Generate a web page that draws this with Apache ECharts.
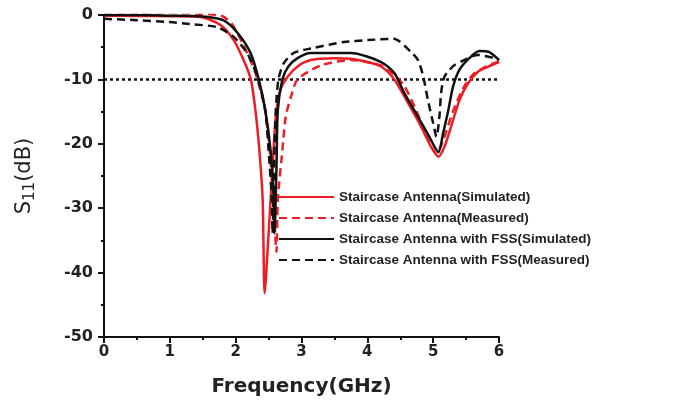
<!DOCTYPE html>
<html>
<head>
<meta charset="utf-8">
<script src="https://cdn.jsdelivr.net/npm/echarts@6/dist/echarts.min.js"></script>
<style>
html,body{margin:0;padding:0;background:#fff;}
#chart{width:684px;height:406px;}
</style>
</head>
<body>
<div id="chart"></div>
<script>
// ---- Data ----
var seriesNames = [
  'Staircase Antenna(Simulated)',
  'Staircase Antenna(Measured)',
  'Staircase Antenna with FSS(Simulated)',
  'Staircase Antenna with FSS(Measured)'
];
var xTicks = [0, 1, 2, 3, 4, 5, 6];
var yTicks = [-50, -40, -30, -20, -10, 0];
var thresholdDb = -10;

var simFreq = [0, 0.5, 1.0, 1.46, 1.77, 1.97, 2.12, 2.23, 2.30, 2.36, 2.41, 2.44, 2.50, 2.56, 2.61, 2.68, 2.79, 2.94, 3.14, 3.49, 3.75, 4.0, 4.21, 4.41, 4.62, 4.82, 4.97, 5.08, 5.17, 5.27, 5.40, 5.53, 5.68, 5.84, 6.0];
var simS11 = [-0.1, -0.15, -0.2, -0.3, -1.55, -3.9, -7, -10, -14.8, -21, -28.7, -43.2, -34, -23.6, -15.8, -11.6, -9.6, -8, -7, -6.7, -6.8, -7.3, -8, -10, -13.7, -17.4, -20.5, -22, -20.5, -17.4, -13.2, -10.6, -8.8, -8, -7.3];

var measFreq = [0, 0.5, 1.0, 1.5, 1.8, 1.95, 2.1, 2.3, 2.45, 2.55, 2.6, 2.62, 2.64, 2.71, 2.76, 2.84, 2.94, 3.3, 3.75, 4.2, 4.4, 4.56, 4.75, 4.95, 5.05, 5.15, 5.3, 5.45, 5.6, 5.8, 6.0];
var measS11 = [0.3, 0.3, 0.3, 0.2, -0.2, -1.5, -4.3, -9, -15, -25, -34, -36.8, -28.7, -21, -15.8, -12.7, -10, -7.8, -7, -7.8, -9.2, -11, -15, -20, -21.5, -19.5, -15, -11.5, -9.3, -8, -7.2];

var fssSimFreq = [0, 0.5, 1.0, 1.46, 1.81, 2.03, 2.23, 2.35, 2.45, 2.53, 2.58, 2.59, 2.62, 2.64, 2.71, 2.80, 2.94, 3.14, 3.75, 4.21, 4.41, 4.56, 4.77, 4.94, 5.08, 5.15, 5.23, 5.30, 5.40, 5.55, 5.70, 5.84, 6.0];
var fssSimS11 = [0, 0, -0.1, -0.2, -0.8, -2.8, -6, -10, -14.8, -21, -28.7, -33.9, -23.6, -14.8, -10, -8, -6.7, -5.9, -5.9, -7.3, -9, -12.1, -15.8, -18.9, -21.3, -18.4, -14.8, -11.2, -8.5, -6.7, -5.6, -5.7, -7];

var fssMeasFreq = [0, 0.5, 1.0, 1.3, 1.72, 1.97, 2.18, 2.33, 2.45, 2.50, 2.55, 2.56, 2.59, 2.61, 2.65, 2.73, 2.88, 3.14, 3.64, 4.0, 4.4, 4.66, 4.77, 4.85, 4.92, 5.0, 5.05, 5.10, 5.12, 5.17, 5.25, 5.32, 5.47, 5.68, 5.93, 6.0];
var fssMeasS11 = [-0.6, -0.8, -1.1, -1.4, -1.9, -3.4, -6, -9.6, -14.8, -21, -28.7, -33.9, -21, -14.8, -10, -7.5, -5.9, -5.2, -4.2, -3.9, -3.7, -5.7, -7, -9.6, -13.2, -16.8, -18.9, -15.2, -12.1, -9.6, -8.5, -7.8, -7, -6.2, -6.7, -6.9];

function zip(xs, ys) { return xs.map(function (x, i) { return [x, ys[i]]; }); }

var RED = '#ee1c24';
var BLACK = '#111111';
var axisFont = 'DejaVu Sans';

var chart = echarts.init(document.getElementById('chart'), null, {renderer: 'canvas'});

function lineSeries(name, data, color, dashed) {
  return {
    name: name,
    type: 'line',
    data: data,
    smooth: 0.25,
    symbol: 'none',
    showSymbol: false,
    lineStyle: {color: color, width: 2.5, type: dashed ? [8, 5] : 'solid'},
    itemStyle: {color: color},
    z: 3
  };
}

var series = [
  lineSeries(seriesNames[0], zip(simFreq, simS11), RED, false),
  lineSeries(seriesNames[1], zip(measFreq, measS11), RED, true),
  lineSeries(seriesNames[2], zip(fssSimFreq, fssSimS11), BLACK, false),
  lineSeries(seriesNames[3], zip(fssMeasFreq, fssMeasS11), BLACK, true)
];
series[0].markLine = {
  silent: true,
  symbol: 'none',
  label: {show: false},
  lineStyle: {color: '#111', type: [3, 3], width: 2.5},
  data: [{yAxis: thresholdDb}],
  z: 2
};

chart.setOption({
  animation: false,
  backgroundColor: '#ffffff',
  grid: {left: 104, right: 185, top: 15, bottom: 69},
  legend: {
    orient: 'vertical',
    left: 273,
    top: 185,
    padding: 5,
    itemWidth: 55,
    itemHeight: 14,
    itemGap: 7,
    itemStyle: {color: 'transparent', borderColor: 'transparent', borderWidth: 0, opacity: 0},
    textStyle: {fontFamily: 'Liberation Sans', fontWeight: 'bold', fontSize: 13.5, color: '#222'},
    data: seriesNames
  },
  xAxis: {
    type: 'value',
    min: xTicks[0],
    max: xTicks[xTicks.length - 1],
    interval: 1,
    name: 'Frequency(GHz)',
    nameLocation: 'middle',
    nameGap: 40,
    nameTextStyle: {fontFamily: axisFont, fontWeight: 'bold', fontSize: 20, color: '#222'},
    axisLine: {show: true, onZero: false, lineStyle: {color: '#111', width: 2}},
    axisTick: {show: true, inside: false, length: 6, lineStyle: {width: 2, color: '#111'}},
    minorTick: {show: true, splitNumber: 2, length: 3, lineStyle: {width: 2, color: '#111'}},
    splitLine: {show: false},
    axisLabel: {margin: 8, fontFamily: axisFont, fontWeight: 'bold', fontSize: 15, color: '#222'}
  },
  yAxis: {
    type: 'value',
    min: yTicks[0],
    max: yTicks[yTicks.length - 1],
    interval: 10,
    name: '{a|S}{b|11}{a|(dB)}',
    nameLocation: 'middle',
    nameGap: 66,
    nameRotate: 90,
    nameTextStyle: {
      color: '#222',
      rich: {
        a: {fontFamily: axisFont, fontSize: 21, color: '#222', lineHeight: 26},
        b: {fontFamily: axisFont, fontSize: 15, color: '#222', lineHeight: 26, verticalAlign: 'bottom', padding: [8, 0, 0, 0]}
      }
    },
    axisLine: {show: true, onZero: false, lineStyle: {color: '#111', width: 2}},
    axisTick: {show: true, inside: false, length: 6, lineStyle: {width: 2, color: '#111'}},
    minorTick: {show: true, splitNumber: 2, length: 3, lineStyle: {width: 2, color: '#111'}},
    splitLine: {show: false},
    axisLabel: {margin: 11, fontFamily: axisFont, fontWeight: 'bold', fontSize: 16, color: '#222'}
  },
  series: series
});
</script>
</body>
</html>
